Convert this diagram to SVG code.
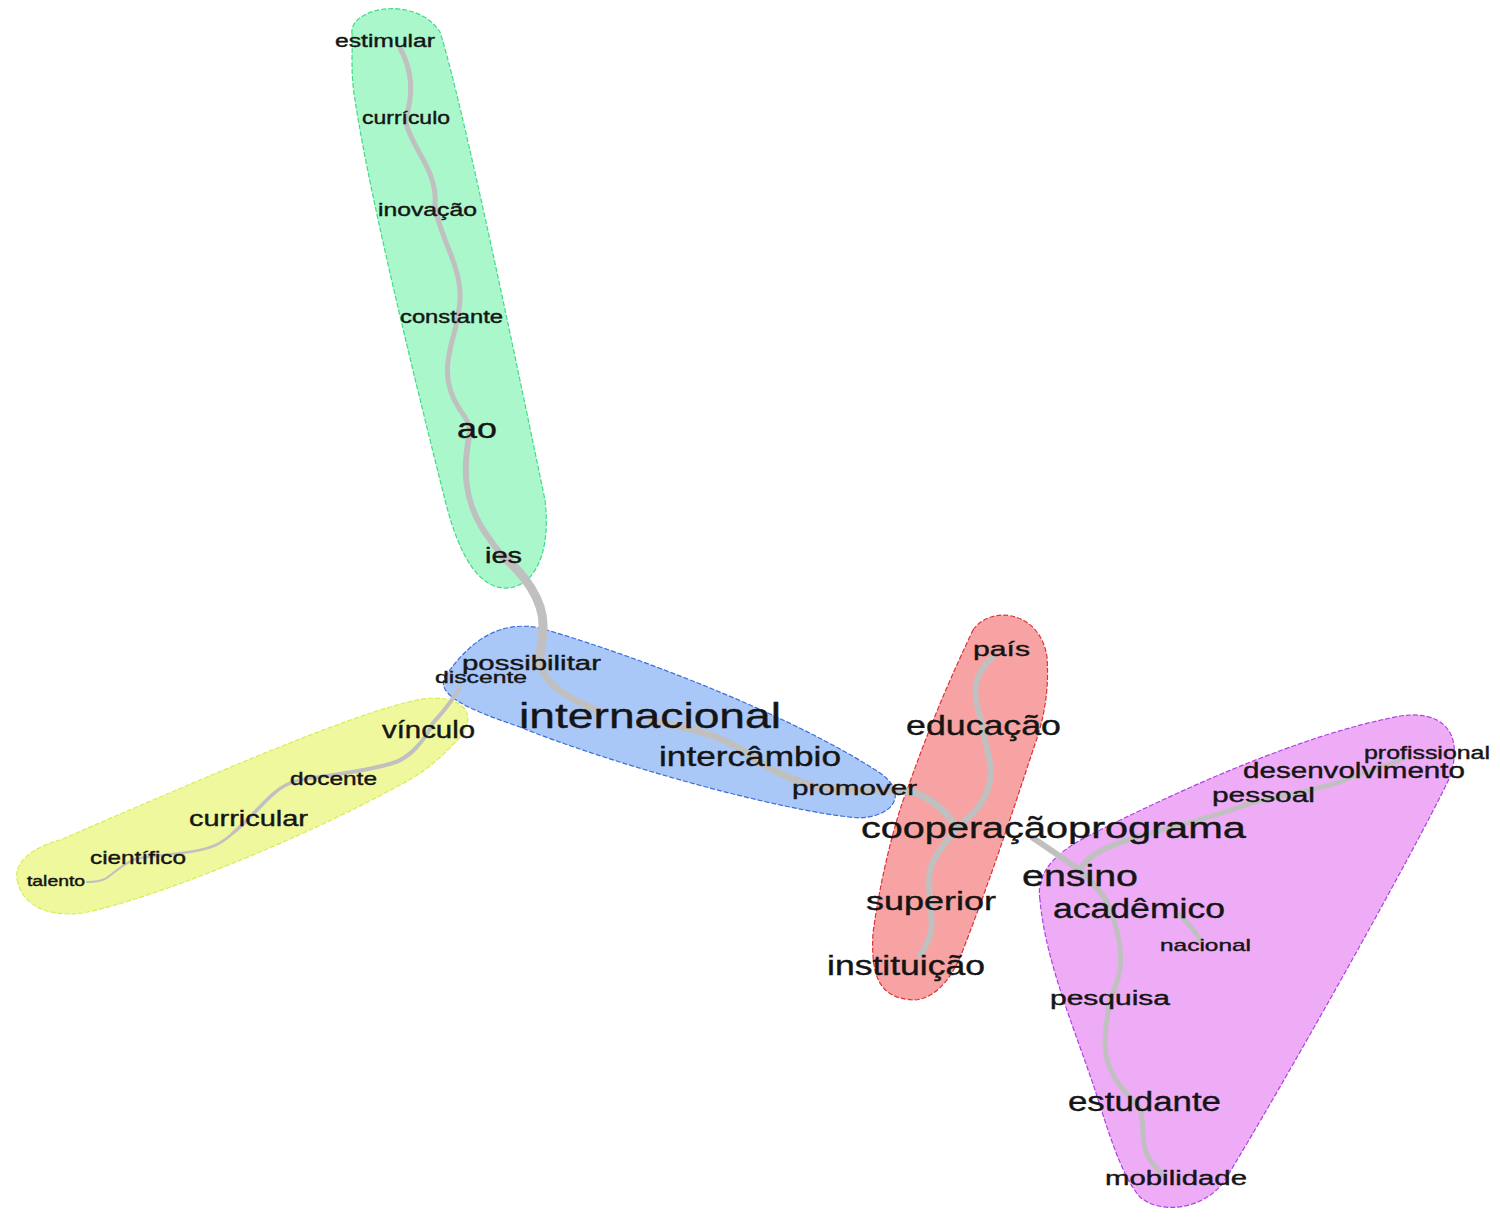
<svg xmlns="http://www.w3.org/2000/svg" width="1500" height="1217" viewBox="0 0 1500 1217">
<style>
.blob{stroke-width:1.2;stroke-dasharray:5 2}
.e{fill:none;stroke:#c0c0c0;stroke-linecap:round;stroke-linejoin:round}
.t{font-family:"Liberation Sans",Arial,sans-serif;fill:#151515;stroke:#151515;stroke-width:0.4}
</style>
<rect width="1500" height="1217" fill="#ffffff"/>
<g id="clusters">
<path id="c-green" class="blob" fill="#aaf7cc" stroke="#3fdc86" d="M352,34 C348,8 415,-6 440,32 C462,100 520,380 545,500 C552,560 530,590 503,588 C480,586 460,560 445,500 C420,400 370,200 355,100 C350,70 353,50 352,34 Z"/>
<path id="c-yellow" class="blob" fill="#eff89c" stroke="#d6ee55" d="M18,883 C10,860 40,845 60,840 C200,780 380,700 433,698 C470,698 475,720 460,737 C440,760 420,775 400,785 C300,840 150,900 83,913 C40,918 22,900 18,883 Z"/>
<path id="c-blue" class="blob" fill="#aac8f7" stroke="#3a6ed8" d="M445,677 C470,640 500,620 540,628 C650,660 800,720 880,773 C905,790 900,815 860,818 C780,812 600,760 520,727 C470,710 435,695 445,677 Z"/>
<path id="c-red" class="blob" fill="#f7a3a3" stroke="#e0303a" d="M973,630 C990,605 1040,610 1047,657 C1050,700 1040,730 1033,750 C1010,820 990,880 963,950 C950,985 930,1000 913,1000 C885,998 870,985 873,933 C880,880 895,820 907,790 C925,740 940,700 973,630 Z"/>
<path id="c-purple" class="blob" fill="#eeacf7" stroke="#b040e0" d="M1040,900 C1035,870 1060,850 1090,835 C1180,790 1300,735 1400,716 C1440,710 1465,730 1450,777 C1410,860 1280,1090 1225,1180 C1205,1210 1160,1215 1140,1197 C1120,1175 1105,1120 1095,1090 C1075,1030 1045,960 1040,900 Z"/>
</g>
<g id="connectors">
<path class="e" stroke-width="5" d="M400,48 C412,70 414,95 405,120"/>
<path class="e" stroke-width="5" d="M405,120 C412,150 438,170 435,205"/>
<path class="e" stroke-width="5" d="M435,205 C438,235 462,265 460,300 C459,315 456,325 455,330"/>
<path class="e" stroke-width="5" d="M455,330 C448,355 440,380 460,410 C468,420 470,428 470,432"/>
<path class="e" stroke-width="6" d="M470,432 C462,470 465,500 482,528 C490,540 497,550 503,556"/>
<path class="e" stroke-width="9" d="M503,556 C525,575 543,600 543,625 C543,645 538,658 540,665"/>
<path class="e" stroke-width="7" d="M540,665 C548,690 575,700 600,712"/>
<path class="e" stroke-width="7" d="M650,720 C690,728 720,735 745,752"/>
<path class="e" stroke-width="7" d="M745,752 C770,770 790,780 820,788"/>
<path class="e" stroke-width="7" d="M820,788 C860,792 900,790 913,792 C930,798 945,810 955,825"/>
<path class="e" stroke-width="4" d="M460,687 C450,705 440,715 433,723"/>
<path class="e" stroke-width="4" d="M433,723 C425,740 410,758 393,763 C370,770 350,772 333,775"/>
<path class="e" stroke-width="3.5" d="M333,775 C310,778 295,780 288,784 C270,792 255,815 233,833"/>
<path class="e" stroke-width="2.5" d="M233,833 C220,845 210,848 200,850 C170,856 145,855 133,860"/>
<path class="e" stroke-width="2" d="M133,860 C120,866 112,875 105,879 C98,882 92,882 87,882"/>
<path class="e" stroke-width="6" d="M993,657 C978,670 972,685 977,705 C980,720 985,730 985,740"/>
<path class="e" stroke-width="6" d="M985,740 C990,760 995,780 983,800 C978,810 970,815 960,825"/>
<path class="e" stroke-width="6" d="M960,825 C950,838 935,852 930,870 C928,885 930,895 930,905"/>
<path class="e" stroke-width="6" d="M930,905 C932,920 935,935 920,955"/>
<path class="e" stroke-width="6" d="M1033,838 C1048,848 1062,858 1080,870"/>
<path class="e" stroke-width="6" d="M1080,870 C1085,858 1100,848 1140,836"/>
<path class="e" stroke-width="5" d="M1140,836 C1180,825 1220,815 1245,805"/>
<path class="e" stroke-width="5" d="M1245,805 C1280,795 1320,790 1345,780"/>
<path class="e" stroke-width="4" d="M1345,780 C1370,770 1390,765 1405,758"/>
<path class="e" stroke-width="6" d="M1080,870 C1095,885 1105,895 1110,910"/>
<path class="e" stroke-width="5" d="M1180,915 C1190,925 1196,932 1200,940"/>
<path class="e" stroke-width="5" d="M1110,910 C1120,935 1122,955 1120,970 C1117,985 1112,995 1110,1000"/>
<path class="e" stroke-width="5" d="M1110,1000 C1105,1030 1100,1055 1115,1078 C1125,1095 1135,1102 1140,1108"/>
<path class="e" stroke-width="5" d="M1140,1108 C1145,1125 1140,1145 1150,1160 C1156,1168 1160,1172 1165,1176"/>
</g>
<g id="n-estimular"><text class="t" x="335" y="47" font-size="18" textLength="100" lengthAdjust="spacingAndGlyphs">estimular</text></g>
<g id="n-curriculo"><text class="t" x="362" y="124" font-size="18" textLength="88" lengthAdjust="spacingAndGlyphs">currículo</text></g>
<g id="n-inovacao"><text class="t" x="378" y="216" font-size="18" textLength="99" lengthAdjust="spacingAndGlyphs">inovação</text></g>
<g id="n-constante"><text class="t" x="400" y="323" font-size="18" textLength="103" lengthAdjust="spacingAndGlyphs">constante</text></g>
<g id="n-ao"><text class="t" x="457" y="438" font-size="27" textLength="40" lengthAdjust="spacingAndGlyphs">ao</text></g>
<g id="n-ies"><text class="t" x="485" y="563" font-size="22" textLength="37" lengthAdjust="spacingAndGlyphs">ies</text></g>
<g id="n-possibilitar"><text class="t" x="462" y="670" font-size="20" textLength="139" lengthAdjust="spacingAndGlyphs">possibilitar</text></g>
<g id="n-discente"><text class="t" x="435" y="683" font-size="17" textLength="92" lengthAdjust="spacingAndGlyphs">discente</text></g>
<g id="n-internacional"><text class="t" x="519" y="728" font-size="35" textLength="262" lengthAdjust="spacingAndGlyphs">internacional</text></g>
<g id="n-intercambio"><text class="t" x="659" y="766" font-size="28" textLength="182" lengthAdjust="spacingAndGlyphs">intercâmbio</text></g>
<g id="n-promover"><text class="t" x="792" y="795" font-size="21" textLength="125" lengthAdjust="spacingAndGlyphs">promover</text></g>
<g id="n-vinculo"><text class="t" x="382" y="738" font-size="23" textLength="93" lengthAdjust="spacingAndGlyphs">vínculo</text></g>
<g id="n-docente"><text class="t" x="290" y="785" font-size="19" textLength="87" lengthAdjust="spacingAndGlyphs">docente</text></g>
<g id="n-curricular"><text class="t" x="189" y="826" font-size="22" textLength="119" lengthAdjust="spacingAndGlyphs">curricular</text></g>
<g id="n-cientifico"><text class="t" x="90" y="864" font-size="19" textLength="96" lengthAdjust="spacingAndGlyphs">científico</text></g>
<g id="n-talento"><text class="t" x="27" y="886" font-size="14" textLength="58" lengthAdjust="spacingAndGlyphs">talento</text></g>
<g id="n-pais"><text class="t" x="973" y="656" font-size="21" textLength="57" lengthAdjust="spacingAndGlyphs">país</text></g>
<g id="n-educacao"><text class="t" x="906" y="735" font-size="28" textLength="155" lengthAdjust="spacingAndGlyphs">educação</text></g>
<g id="n-cooperacao"><text class="t" x="861" y="838" font-size="30" textLength="207" lengthAdjust="spacingAndGlyphs">cooperação</text></g>
<g id="n-superior"><text class="t" x="866" y="910" font-size="26" textLength="130" lengthAdjust="spacingAndGlyphs">superior</text></g>
<g id="n-instituicao"><text class="t" x="827" y="975" font-size="27" textLength="158" lengthAdjust="spacingAndGlyphs">instituição</text></g>
<g id="n-programa"><text class="t" x="1068" y="838" font-size="30" textLength="178" lengthAdjust="spacingAndGlyphs">programa</text></g>
<g id="n-ensino"><text class="t" x="1022" y="886" font-size="29" textLength="116" lengthAdjust="spacingAndGlyphs">ensino</text></g>
<g id="n-academico"><text class="t" x="1053" y="918" font-size="27" textLength="172" lengthAdjust="spacingAndGlyphs">acadêmico</text></g>
<g id="n-nacional"><text class="t" x="1160" y="951" font-size="17" textLength="91" lengthAdjust="spacingAndGlyphs">nacional</text></g>
<g id="n-pesquisa"><text class="t" x="1050" y="1005" font-size="20" textLength="120" lengthAdjust="spacingAndGlyphs">pesquisa</text></g>
<g id="n-estudante"><text class="t" x="1068" y="1111" font-size="27" textLength="153" lengthAdjust="spacingAndGlyphs">estudante</text></g>
<g id="n-mobilidade"><text class="t" x="1105" y="1185" font-size="20" textLength="142" lengthAdjust="spacingAndGlyphs">mobilidade</text></g>
<g id="n-pessoal"><text class="t" x="1212" y="802" font-size="21" textLength="103" lengthAdjust="spacingAndGlyphs">pessoal</text></g>
<g id="n-desenvolvimento"><text class="t" x="1243" y="778" font-size="22" textLength="222" lengthAdjust="spacingAndGlyphs">desenvolvimento</text></g>
<g id="n-profissional"><text class="t" x="1364" y="759" font-size="18" textLength="126" lengthAdjust="spacingAndGlyphs">profissional</text></g>
</svg>
